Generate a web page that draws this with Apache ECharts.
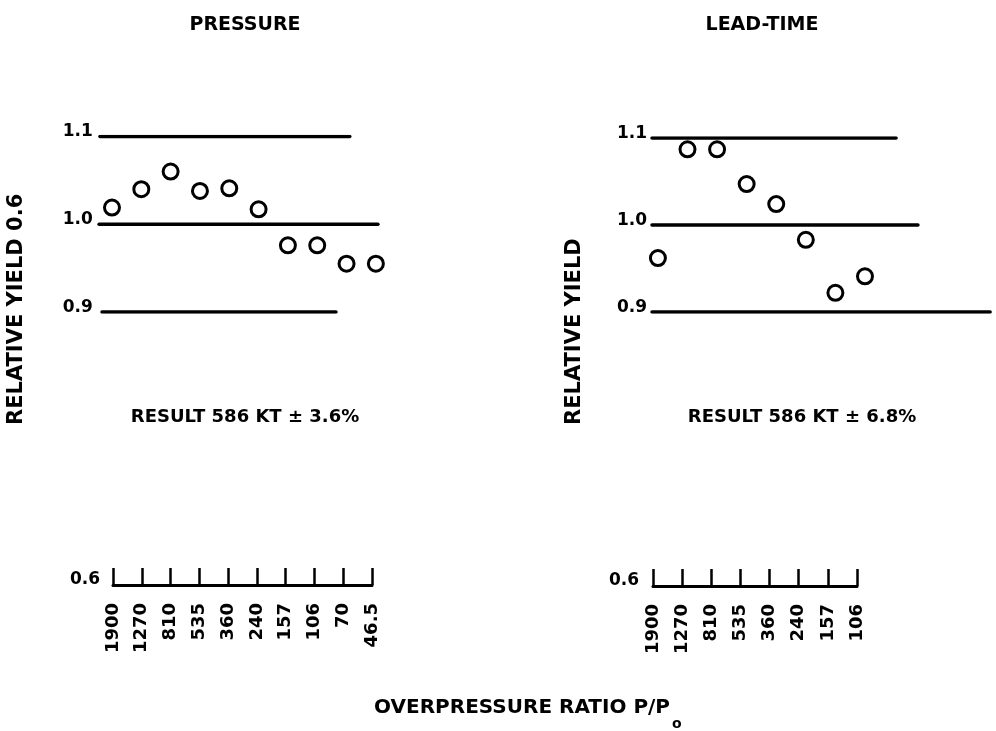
<!DOCTYPE html>
<html>
<head>
<meta charset="utf-8">
<script src="https://cdn.jsdelivr.net/npm/echarts@6/dist/echarts.min.js"></script>
<style>
html,body{margin:0;padding:0;background:#fff;}
#chart{width:996px;height:731px;}
</style>
</head>
<body>
<div id="chart"></div>
<script>
// ---- data ----
const pressureCategories = ['1900','1270','810','535','360','240','157','106','70','46.5'];
const pressureValues = [1.019, 1.040, 1.060, 1.038, 1.041, 1.017, 0.976, 0.976, 0.955, 0.955];
const leadCategories = ['1900','1270','810','535','360','240','157','106'];
const leadValues = [0.962, 1.087, 1.087, 1.047, 1.024, 0.983, 0.922, 0.941];
const yTicks = [0.9, 1.0, 1.1];
const brokenAxisBase = [0.6, 0.7];
// reference lines: value level and extent in category-index units
const pressureRefLines = [
  {y: 1.1, from: -0.41, to: 8.11},
  {y: 1.0, from: -0.44, to: 9.07},
  {y: 0.9, from: -0.34, to: 7.64}
];
const leadRefLines = [
  {y: 1.1, from: -0.2, to: 8.05},
  {y: 1.0, from: -0.2, to: 8.79},
  {y: 0.9, from: -0.2, to: 11.23}
];
const panelTitles = ['PRESSURE', 'LEAD-TIME'];
const resultTexts = ['RESULT 586 KT \u00B1 3.6%', 'RESULT 586 KT \u00B1 6.8%'];
const yNames = ['RELATIVE YIELD 0.6', 'RELATIVE YIELD'];
const xName = 'OVERPRESSURE RATIO P/P';
const xNameSub = 'o';

// ---- chart ----
const FF = '"DejaVu Sans", "Liberation Sans", sans-serif';
const chart = echarts.init(document.getElementById('chart'), null, {renderer: 'canvas'});

function topY(leftMargin) {
  return {
    type: 'value', min: yTicks[0], max: yTicks[yTicks.length - 1], interval: 0.1,
    axisLine: {show: false}, axisTick: {show: false}, splitLine: {show: false},
    axisLabel: {
      margin: leftMargin, color: '#000', fontFamily: FF, fontWeight: 'bold', fontSize: 17,
      formatter: v => v.toFixed(1), verticalAlign: 'bottom', lineHeight: 9
    }
  };
}
function bottomY(margin) {
  return {
    type: 'value', min: brokenAxisBase[0], max: brokenAxisBase[1], interval: 0.1,
    axisLine: {show: false}, axisTick: {show: false}, splitLine: {show: false},
    axisLabel: {
      margin: margin, color: '#000', fontFamily: FF, fontWeight: 'bold', fontSize: 17,
      showMaxLabel: false, formatter: v => v.toFixed(1), verticalAlign: 'bottom', lineHeight: 11
    }
  };
}
function bottomX(cats) {
  return {
    type: 'category', data: cats, boundaryGap: false,
    axisLine: {lineStyle: {color: '#000', width: 3}},
    axisTick: {inside: true, length: 17, interval: 0, lineStyle: {color: '#000', width: 2.5}},
    axisLabel: {rotate: 90, interval: 0, margin: 18, color: '#000', fontFamily: FF, fontWeight: 'bold', fontSize: 18},
    splitLine: {show: false}
  };
}
function refSeries(lines, idx) {
  return lines.map(l => ({
    type: 'line', xAxisIndex: idx, yAxisIndex: idx,
    data: [[l.from, l.y], [l.to, l.y]],
    symbol: 'none', silent: true, z: 2,
    lineStyle: {color: '#000', width: 3.5, cap: 'round'}
  }));
}
function pointSeries(vals, idx) {
  return {
    type: 'scatter', xAxisIndex: idx, yAxisIndex: idx,
    data: vals.map((v, i) => [i, v]),
    symbol: 'circle', symbolSize: 15, z: 5,
    itemStyle: {color: '#fff', borderColor: '#000', borderWidth: 3, opacity: 1}
  };
}
function txt(text, x, y, size, align, rot) {
  return {
    type: 'text', x: x, y: y, rotation: rot || 0, silent: true,
    style: {
      text: text, font: 'bold ' + size + 'px ' + FF, fill: '#000',
      align: align || 'center', textAlign: align || 'center',
      verticalAlign: 'middle', textVerticalAlign: 'middle'
    }
  };
}

const option = {
  animation: false,
  backgroundColor: '#fff',
  grid: [
    {left: 98.8, top: 136.5, width: 280, height: 175.5},
    {left: 113, top: 559, width: 259, height: 26},
    {left: 652, top: 138, width: 338.7, height: 174},
    {left: 653, top: 560, width: 204, height: 26}
  ],
  xAxis: [
    {gridIndex: 0, type: 'value', min: -0.45, max: 9.1, show: false},
    Object.assign({gridIndex: 1}, bottomX(pressureCategories)),
    {gridIndex: 2, type: 'value', min: -0.2, max: 11.25, show: false},
    Object.assign({gridIndex: 3}, bottomX(leadCategories))
  ],
  yAxis: [
    Object.assign({gridIndex: 0}, topY(6)),
    Object.assign({gridIndex: 1}, bottomY(13)),
    Object.assign({gridIndex: 2}, topY(5)),
    Object.assign({gridIndex: 3}, bottomY(14))
  ],
  series: [].concat(
    refSeries(pressureRefLines, 0),
    [pointSeries(pressureValues, 0)],
    refSeries(leadRefLines, 2),
    [pointSeries(leadValues, 2)]
  ),
  graphic: [
    txt(panelTitles[0], 245, 25, 19),
    txt(panelTitles[1], 762, 25, 19),
    txt(resultTexts[0], 245, 417, 18),
    txt(resultTexts[1], 802, 417, 18),
    txt(yNames[0], 17, 425, 21, 'left', Math.PI / 2),
    txt(yNames[1], 575, 425, 21, 'left', Math.PI / 2),
    txt(xName, 670, 708, 20, 'right'),
    txt(xNameSub, 672, 724, 14, 'left')
  ]
};
chart.setOption(option);
</script>
</body>
</html>
